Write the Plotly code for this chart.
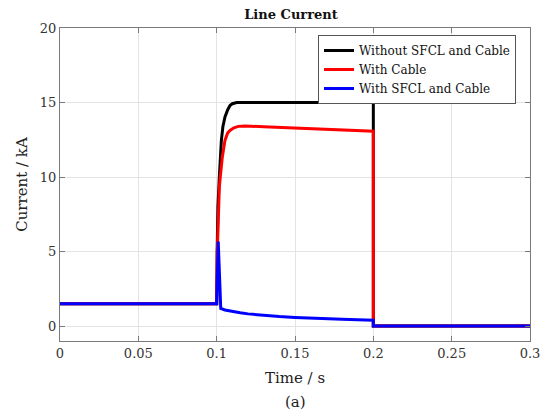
import plotly.graph_objects as go

# ---- data ----
t_black = [0, 0.1, 0.1003, 0.1008, 0.1017, 0.1023, 0.103, 0.104, 0.1053, 0.107, 0.1085, 0.110, 0.1128, 0.116, 0.2, 0.2, 0.3]
i_black = [1.5, 1.5, 5.0, 8.0, 10.0, 11.4, 12.46, 13.4, 14.03, 14.5, 14.8, 14.92, 15.0, 15.0, 15.0, 0, 0]

t_red = [0, 0.1, 0.1004, 0.101, 0.1017, 0.1023, 0.1036, 0.1053, 0.107, 0.1085, 0.111, 0.1138, 0.118, 0.13, 0.15, 0.17, 0.19, 0.2, 0.2, 0.3]
i_red = [1.5, 1.5, 5.0, 7.6, 9.3, 10.0, 11.33, 12.46, 12.95, 13.13, 13.3, 13.4, 13.42, 13.38, 13.3, 13.2, 13.11, 13.08, 0, 0]

t_blue = [0, 0.1, 0.101, 0.1026, 0.1053, 0.11, 0.115, 0.12, 0.13, 0.14, 0.15, 0.16, 0.17, 0.18, 0.19, 0.2, 0.2, 0.3]
i_blue = [1.5, 1.5, 5.68, 1.19, 1.08, 0.98, 0.9, 0.82, 0.72, 0.64, 0.58, 0.53, 0.49, 0.46, 0.43, 0.4, 0, 0]

names = ["Without SFCL and Cable", "With Cable", "With SFCL and Cable"]
colors = ["#000000", "#ff0000", "#0000ff"]

x_ticks = [0, 0.05, 0.1, 0.15, 0.2, 0.25, 0.3]
x_tick_text = ["0", "0.05", "0.1", "0.15", "0.2", "0.25", "0.3"]
y_ticks = [0, 5, 10, 15, 20]

FONT = "DejaVu Serif"

# page body has an 8px margin, so the figure is 8px smaller on each axis
W, H = 544, 405
L, R, T, B = 52, 22, 20, 72
PW, PH = W - L - R, H - T - B

fig = go.Figure()
for t, i, n, c in zip([t_black, t_red, t_blue], [i_black, i_red, i_blue], names, colors):
    fig.add_trace(go.Scatter(x=t, y=i, mode="lines", name=n,
                             line=dict(color=c, width=3)))

axis_common = dict(
    showline=True, linecolor="#7a7a7a", linewidth=1, mirror="ticks",
    ticks="inside", ticklen=5, tickcolor="#7a7a7a",
    showgrid=True, gridcolor="#e3e3e3", gridwidth=1,
    zeroline=False, tickfont=dict(family=FONT, size=13, color="#333333"),
)

fig.update_layout(
    width=W, height=H,
    margin=dict(l=L, r=R, t=T, b=B),
    paper_bgcolor="white", plot_bgcolor="white",
    font=dict(family=FONT, color="#222222"),
    title=dict(text="<b>Line Current</b>", x=(291 - 8) / W, xanchor="center",
               y=1 - 6.5 / H, yanchor="middle", yref="container",
               font=dict(family=FONT, size=13, color="#111111")),
    xaxis=dict(range=[0, 0.3], tickvals=x_ticks, ticktext=x_tick_text,
               title=dict(text="Time / s", standoff=12,
                          font=dict(family=FONT, size=15, color="#222222")),
               **axis_common),
    yaxis=dict(range=[-1, 20], tickvals=y_ticks,
               title=dict(text="Current / kA", standoff=8,
                          font=dict(family=FONT, size=15, color="#222222")),
               **axis_common),
    legend=dict(x=(318 - 60) / PW, y=(341 - 35) / PH, xanchor="left", yanchor="top",
                bgcolor="white", bordercolor="#555555", borderwidth=1,
                font=dict(family=FONT, size=12, color="#111111"),
                tracegroupgap=0),
    showlegend=True,
    annotations=[dict(text="(a)", x=0.5, y=-(402 - 341) / PH, xref="paper", yref="paper",
                      xanchor="center", yanchor="middle", showarrow=False,
                      font=dict(family=FONT, size=15, color="#222222"))],
)

fig.write_html("out.html")
